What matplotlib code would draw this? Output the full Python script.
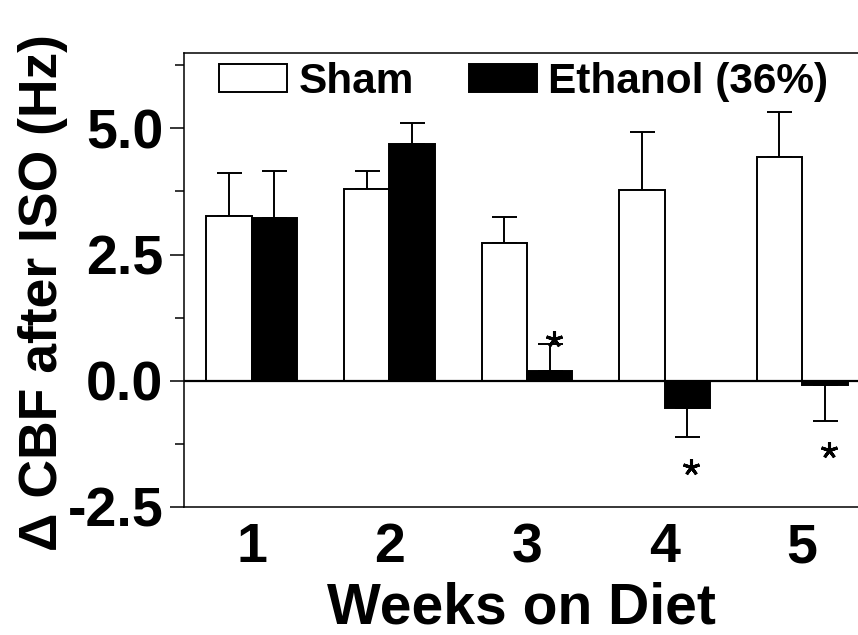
import numpy as np
import matplotlib
matplotlib.use("Agg")
import matplotlib.pyplot as plt
from matplotlib.ticker import MultipleLocator, FormatStrFormatter

plt.rcParams['font.family'] = ['Liberation Sans', 'DejaVu Sans']
plt.rcParams['font.weight'] = 'bold'
plt.rcParams['axes.unicode_minus'] = False

# valores
weeks = [1, 2, 3, 4, 5]
sham = [3.27, 3.79, 2.72, 3.77, 4.43]
sham_err = [0.84, 0.37, 0.52, 1.16, 0.89]
ethanol = [3.23, 4.69, 0.19, -0.53, -0.09]
ethanol_err = [0.93, 0.42, 0.54, 0.59, 0.71]
ethanol_sig = [False, False, True, True, True]

x = np.array(weeks, dtype=float)
w = 0.33

fig = plt.figure(figsize=(8.58, 6.35), dpi=100)
ax = fig.add_axes([0.2145, 0.2016, 0.7855, 0.7157])

def one_sided(vals, errs):
    # barras de error solo hacia afuera de la barra
    lo = [e if v < 0 else 0 for v, e in zip(vals, errs)]
    hi = [e if v >= 0 else 0 for v, e in zip(vals, errs)]
    return [lo, hi]

b1 = ax.bar(x - w / 2, sham, w, color='white', edgecolor='black', linewidth=1.4, label='Sham', zorder=2)
b2 = ax.bar(x + w / 2, ethanol, w, color='black', edgecolor='black', linewidth=1.4, label='Ethanol (36%)', zorder=2)
ax.errorbar(x - w / 2, sham, yerr=one_sided(sham, sham_err), fmt='none', ecolor='black',
            elinewidth=1.4, capsize=9, capthick=1.4, zorder=1)
ax.errorbar(x + w / 2, ethanol, yerr=one_sided(ethanol, ethanol_err), fmt='none', ecolor='black',
            elinewidth=1.4, capsize=9, capthick=1.4, zorder=1)

# asteriscos de significancia
for xi, v, e, s in zip(x, ethanol, ethanol_err, ethanol_sig):
    if not s:
        continue
    ys = v + e + 0.1 if v >= 0 else v - e - 0.58
    ax.plot(xi + w / 2 + 0.03, ys, marker=(5, 2, 0), markersize=12, mew=2.2, color='black', zorder=3)

ax.axhline(0, color='black', linewidth=1.6, zorder=3)

ax.set_xlim(0.508, 5.406)
ax.set_ylim(-2.5, 6.5)
ax.set_xticks(weeks)
ax.set_xticklabels([str(k) for k in weeks])
ax.yaxis.set_major_locator(MultipleLocator(2.5))
ax.yaxis.set_minor_locator(MultipleLocator(1.25))
ax.yaxis.set_major_formatter(FormatStrFormatter('%.1f'))
ax.tick_params(axis='x', length=0, pad=11, labelsize=40)
ax.tick_params(axis='y', which='major', length=10, width=1.1, pad=5, labelsize=40, direction='out')
ax.tick_params(axis='y', which='minor', length=6.5, width=1.1, direction='out')

for sp in ['left', 'bottom', 'top']:
    ax.spines[sp].set_linewidth(1.1)
ax.spines['right'].set_visible(False)

ax.set_xlabel('Weeks on Diet', fontsize=41, fontweight='bold', labelpad=5)
ax.set_ylabel('Δ CBF after ISO (Hz)', fontsize=38.5, fontweight='bold')
ax.yaxis.set_label_coords(-0.172, 0.471)

ax.legend(handles=[b1, b2], loc='center left', bbox_to_anchor=(0.0524, 0.936), ncol=2,
          frameon=False, fontsize=30.5, handlelength=1.6, handleheight=0.64,
          handletextpad=0.27, columnspacing=1.3, borderpad=0, borderaxespad=0)

fig.savefig('out.png', dpi=100)
